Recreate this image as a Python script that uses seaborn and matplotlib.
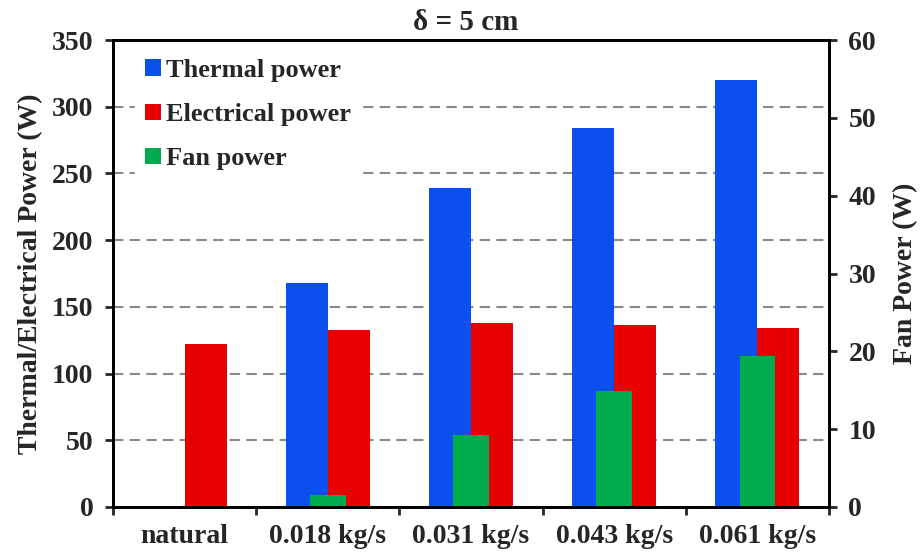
import matplotlib
matplotlib.use("Agg")
import matplotlib.pyplot as plt
import seaborn as sns
import pandas as pd
from matplotlib.patches import Patch
from matplotlib.ticker import MultipleLocator, FixedLocator

# Flow conditions on the x axis
categories = ["natural", "0.018 kg/s", "0.031 kg/s", "0.043 kg/s", "0.061 kg/s"]

# Left axis series (W)
thermal_power = [0, 168, 239, 284, 320]
electrical_power = [122, 133, 137.7, 136.6, 134.4]

# Right axis series (W)
fan_power = [0, 1.6, 9.3, 14.9, 19.4]

series_names = ["Thermal power", "Electrical power", "Fan power"]
colors = {"Thermal power": "#0A50EE", "Electrical power": "#E60000", "Fan power": "#00AA4F"}

sns.set_theme(style="white")
plt.rcParams["font.family"] = ["Liberation Serif", "DejaVu Serif"]
plt.rcParams["font.weight"] = "bold"
plt.rcParams["axes.labelweight"] = "bold"
plt.rcParams["axes.titleweight"] = "bold"

FS = 20

long_df = pd.DataFrame({
    "flow": categories * 2,
    "power": thermal_power + electrical_power,
    "series": [series_names[0]] * len(categories) + [series_names[1]] * len(categories),
})
fan_df = pd.DataFrame({"flow": categories, "power": fan_power})

fig = plt.figure(figsize=(9.21, 5.57), dpi=100)
ax = fig.add_axes([113 / 921, 50 / 557, 716 / 921, 467 / 557])

sns.barplot(data=long_df, x="flow", y="power", hue="series", order=categories,
            hue_order=series_names[:2], palette=colors, width=0.586,
            saturation=1, ax=ax, legend=False)

ax2 = ax.twinx()
sns.barplot(data=fan_df, x="flow", y="power", order=categories, color=colors["Fan power"],
            width=0.25, saturation=1, ax=ax2)

for a in (ax, ax2):
    for p in a.patches:
        p.set_edgecolor("none")
        p.set_linewidth(0)

# Left axis
ax.set_ylim(0, 350)
ax.yaxis.set_major_locator(MultipleLocator(50))
ax.set_xlim(-0.5, len(categories) - 0.5)
ax.set_axisbelow(True)
ax.yaxis.grid(True, color="#8a8a8a", linestyle=(0, (5, 3)), linewidth=1.5)
ax.xaxis.grid(False)

# Right axis
ax2.set_ylim(0, 60)
ax2.yaxis.set_major_locator(MultipleLocator(10))
ax2.grid(False)

# Category ticks at the boundaries, labels in the middle
ax.xaxis.set_major_locator(FixedLocator([i - 0.5 for i in range(len(categories) + 1)]))
ax.set_xticklabels([""] * (len(categories) + 1))
ax.xaxis.set_minor_locator(FixedLocator(list(range(len(categories)))))
ax.set_xticklabels(categories, minor=True)
ax.tick_params(axis="x", which="major", direction="out", length=6, width=2, bottom=True)
ax.tick_params(axis="x", which="minor", length=0, pad=12, labelsize=FS)

ax.tick_params(axis="y", direction="out", length=6, width=2, left=True, labelsize=FS, pad=8)
ax2.tick_params(axis="y", direction="out", length=6, width=2, right=True, labelsize=FS, pad=8)

for lbl in ax.get_xticklabels(minor=True) + ax.get_yticklabels() + ax2.get_yticklabels():
    lbl.set_fontweight("bold")

for a in (ax, ax2):
    for side in ("left", "right", "top", "bottom"):
        a.spines[side].set_color("black")
        a.spines[side].set_linewidth(2)
        a.spines[side].set_visible(True)

ax.set_xlabel("")
ax.set_ylabel("Thermal/Electrical Power (W)", fontsize=FS, fontweight="bold")
ax2.set_ylabel("Fan Power (W)", fontsize=FS, fontweight="bold")
ax2.set_xlabel("")
ax.yaxis.set_label_coords(-0.098, 0.5)
ax2.yaxis.set_label_coords(1.089, 0.5)

ax.set_title("δ = 5 cm", fontsize=21, fontweight="bold", pad=7, x=0.492)

handles = [Patch(facecolor=colors[n], edgecolor="none") for n in series_names]
leg = ax2.legend(handles, series_names, loc="upper left", bbox_to_anchor=(0.012, 1.01),
                 frameon=True, fancybox=False, framealpha=1, edgecolor="white",
                 facecolor="white", handlelength=0.6, handleheight=0.6,
                 handletextpad=0.2, labelspacing=0.8, borderpad=0.4,
                 prop={"weight": "bold", "size": 19})

fig.savefig("out.png", dpi=100)
